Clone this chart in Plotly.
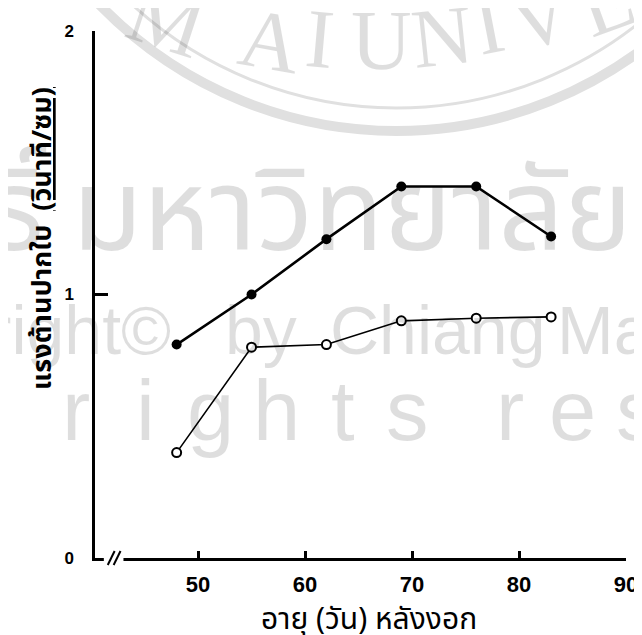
import plotly.graph_objects as go

# ---- data ----
days = [48, 55, 62, 69, 76, 83]
resist_filled = [0.81, 1.00, 1.21, 1.41, 1.41, 1.22]
resist_open = [0.40, 0.80, 0.81, 0.90, 0.91, 0.915]
x_ticks = [50, 60, 70, 80, 90]
x_tick_labels = ["50", "60", "70", "80", "90"]
y_ticks = [0, 1, 2]
y_tick_labels = ["0", "1", "2"]
x_title = "อายุ (วัน) หลังงอก"
y_title = "แรงต้านปากใบ  <span style='text-decoration:underline'>(วินาที/ซม)</span>"

# ---- geometry (pixels) ----
W, H = 642, 635
L, R, T, B = 87, 14, 23, 85
PW = W - L - R
PH = H - T - B


def px(x):
    return (x - L) / PW


def py(y):
    return (H - B - y) / PH


THAI = "Noto Sans Thai, Noto Sans Thai UI, Loma, Garuda, Tlwg Typo, Noto Sans, DejaVu Sans, sans-serif"
WM = "rgba(0,0,0,0.13)"
WM_LINE = "rgb(224,224,224)"

fig = go.Figure()
fig.add_trace(go.Scatter(
    x=days, y=resist_filled, mode="lines+markers",
    line=dict(color="black", width=2.6),
    marker=dict(symbol="circle", size=10, color="black"),
    cliponaxis=False, showlegend=False))
fig.add_trace(go.Scatter(
    x=days, y=resist_open, mode="lines+markers",
    line=dict(color="black", width=1.6),
    marker=dict(symbol="circle", size=9, color="white", line=dict(color="black", width=2)),
    cliponaxis=False, showlegend=False))

annotations = []
shapes = []

# ---- watermark (background) ----
for (cx, cy, r, w) in [(394, -302, 425, 10), (394, -302, 402, 3)]:
    shapes.append(dict(type="circle", xref="paper", yref="paper",
                       x0=px(cx - r), x1=px(cx + r), y0=py(cy + r), y1=py(cy - r),
                       line=dict(color=WM_LINE, width=w), layer="below"))
arc_letters = [("M", 160, 12, 18), ("A", 266, 33, 10), ("I", 316, 30, 5), ("U", 379, 33, 0),
               ("N", 441, 29, -6), ("I", 488, 17, -11), ("V", 541, 9, -15), ("E", 607, -6, -20)]
for ch, x, y, a in arc_letters:
    annotations.append(dict(text=ch, x=px(x), y=py(y), xref="paper", yref="paper",
                            showarrow=False, textangle=a, xanchor="center", yanchor="middle",
                            font=dict(family="Liberation Serif, serif", size=84, color=WM)))
annotations.append(dict(text="ลิขสิทธิ์", x=px(40), y=py(207), xref="paper", yref="paper",
                        showarrow=False, xanchor="right", yanchor="middle",
                        font=dict(family=THAI, size=115, color=WM)))
annotations.append(dict(text="มหาวิทยาลัยเชียงใหม่", x=px(62), y=py(207), xref="paper", yref="paper",
                        showarrow=False, xanchor="left", yanchor="middle",
                        font=dict(family=THAI, size=115, color=WM)))
for txt, x, anc in [("Copyright©", 166, "right"), ("by", 217, "left"), ("Chiang", 324, "left"),
                    ("Mai University", 556, "left")]:
    annotations.append(dict(text=txt, x=px(x), y=py(322), xref="paper", yref="paper",
                            showarrow=False, xanchor=anc, yanchor="middle",
                            font=dict(family="Liberation Sans Narrow, Liberation Sans, sans-serif",
                                      size=68, color=WM)))
rights_letters = [("r", 68), ("i", 138), ("g", 205), ("h", 272), ("t", 340), ("s", 405),
                  ("r", 510), ("e", 573), ("s", 640)]
for ch, x in rights_letters:
    annotations.append(dict(text=ch, x=px(x), y=py(402), xref="paper", yref="paper",
                            showarrow=False, xanchor="center", yanchor="middle",
                            font=dict(family="Liberation Sans, sans-serif", size=85, color=WM)))

# ---- axis titles ----
annotations.append(dict(text="<b>" + y_title + "</b>", x=px(33), y=py(230), xref="paper", yref="paper",
                        showarrow=False, textangle=-90, xanchor="center", yanchor="middle",
                        font=dict(family=THAI, size=27, color="black")))
annotations.append(dict(text=x_title, x=px(366), y=py(612), xref="paper", yref="paper",
                        showarrow=False, xanchor="center", yanchor="middle",
                        font=dict(family=THAI, size=30, color="black")))

# ---- axis break ----
shapes.append(dict(type="rect", xref="paper", yref="paper", x0=px(96), x1=px(116),
                   y0=py(556), y1=py(544), fillcolor="white", line=dict(width=0), layer="above"))
for x0 in (100, 106):
    shapes.append(dict(type="line", xref="paper", yref="paper", x0=px(x0), y0=py(557),
                       x1=px(x0 + 7), y1=py(543), line=dict(color="black", width=2), layer="above"))

fig.update_layout(
    width=W, height=H,
    margin=dict(l=L, r=R, t=T, b=B),
    paper_bgcolor="white", plot_bgcolor="rgba(0,0,0,0)",
    annotations=annotations, shapes=shapes,
    xaxis=dict(range=[40.37, 90], tickvals=x_ticks, ticktext=x_tick_labels,
               showgrid=False, zeroline=False, showline=True, linecolor="black", linewidth=2.5,
               ticks="inside", ticklen=7, tickwidth=2.5, tickcolor="black",
               ticklabelstandoff=5,
               tickfont=dict(family="Liberation Sans, Arial, sans-serif", size=22, color="black", weight="bold")),
    yaxis=dict(range=[0, 2], tickvals=y_ticks, ticktext=y_tick_labels,
               showgrid=False, zeroline=False, showline=True, linecolor="black", linewidth=2.5,
               ticks="inside", ticklen=13, tickwidth=2.5, tickcolor="black",
               ticklabelstandoff=15,
               tickfont=dict(family="Liberation Sans, Arial, sans-serif", size=17, color="black", weight="bold")),
)

fig.write_html("out.html")
